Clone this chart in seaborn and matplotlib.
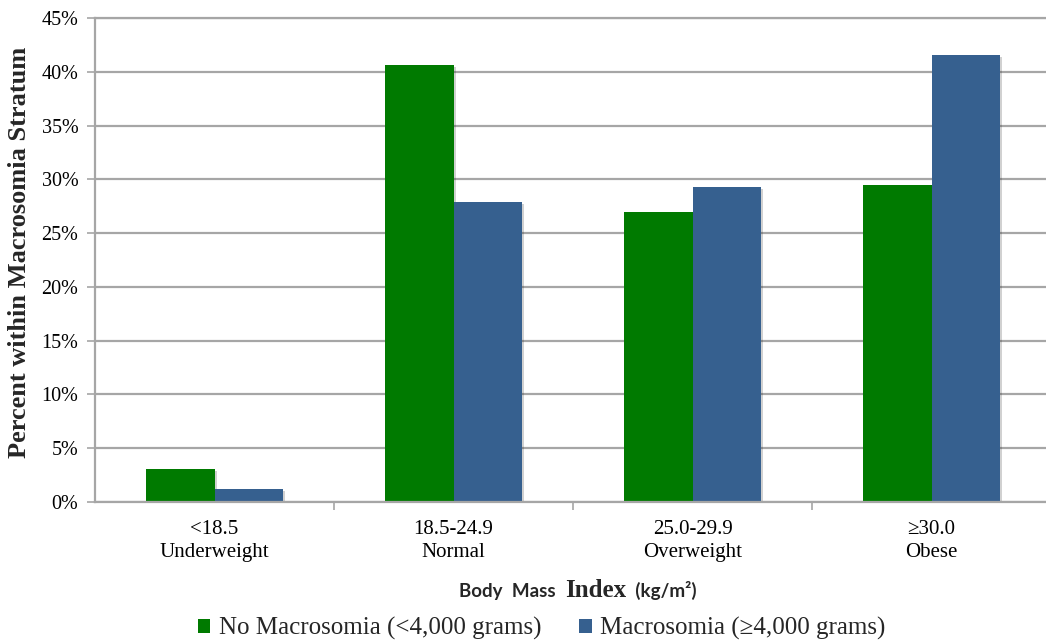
import matplotlib
matplotlib.use("Agg")
import matplotlib.pyplot as plt
import seaborn as sns
import pandas as pd
from matplotlib import patheffects as pe
from matplotlib.ticker import PercentFormatter, FixedLocator

# BMI strata and share of births in each macrosomia stratum (%)
categories = ["<18.5\nUnderweight", "18.5-24.9\nNormal", "25.0-29.9\nOverweight", "\u226530.0\nObese"]
no_macrosomia = [3.1, 40.6, 27.0, 29.5]
macrosomia = [1.2, 27.9, 29.3, 41.6]
series_names = ["No Macrosomia (<4,000 grams)", "Macrosomia (\u22654,000 grams)"]
y_ticks = [0, 5, 10, 15, 20, 25, 30, 35, 40, 45]

GREEN = "#007A00"
BLUE = "#36608F"
GRID = "#A6A6A6"

df = pd.DataFrame({
    "bmi": categories * 2,
    "pct": no_macrosomia + macrosomia,
    "group": [series_names[0]] * len(categories) + [series_names[1]] * len(categories),
})

sns.set_theme(style="white")
plt.rcParams["font.family"] = ["Liberation Serif", "DejaVu Serif"]

fig = plt.figure(figsize=(10.46, 6.41), dpi=100)
# plot area runs slightly past the right edge of the canvas
ax = fig.add_axes([95 / 1046, 0.2168, 956 / 1046, 0.7551])

sns.barplot(
    data=df, x="bmi", y="pct", hue="group",
    order=categories, hue_order=series_names,
    palette=[GREEN, BLUE], saturation=1, width=0.57,
    errorbar=None, linewidth=0, ax=ax,
)

# soft drop shadow behind each bar
for p in ax.patches:
    p.set_path_effects([
        pe.SimplePatchShadow(offset=(1.5, -1.5), shadow_rgbFace="k", alpha=0.2),
        pe.Normal(),
    ])

ax.set_ylim(0, 45)
ax.set_xlim(-0.5, len(categories) - 0.5)
ax.yaxis.set_major_locator(FixedLocator(y_ticks))
ax.yaxis.set_major_formatter(PercentFormatter(decimals=0))
ax.grid(axis="y", color=GRID, linewidth=1.6)
ax.set_axisbelow(True)

for side in ["left", "bottom", "top"]:
    ax.spines[side].set_visible(True)
    ax.spines[side].set_color(GRID)
    ax.spines[side].set_linewidth(1.6)
ax.spines["right"].set_visible(False)

ax.tick_params(axis="y", which="major", direction="out", length=6, width=1.2,
               color=GRID, left=True, labelsize=14.5, pad=6, labelcolor="black")
ax.set_xticks(range(len(categories)))
ax.set_xticklabels(categories, fontsize=15, linespacing=1.3)
ax.tick_params(axis="x", which="major", length=0, pad=13, labelcolor="black")
ax.set_xticks([i + 0.5 for i in range(len(categories) - 1)], minor=True)
ax.tick_params(axis="x", which="minor", direction="out", length=6, width=1.2,
               color=GRID, bottom=True)

ax.set_xlabel("")
ax.set_ylabel("")
fig.text(0.019, 0.607, "Percent within Macrosomia Stratum", rotation=90,
         ha="center", va="center", fontsize=19, fontweight="bold")

# axis title mixing a sans-serif and a serif face
pieces = [("Body\u2002Mass\u2002", "Lato", 13.5), ("Index", "Liberation Serif", 18),
          ("\u2002(kg/m\u00b2)", "Lato", 13.5)]
fig.canvas.draw()
renderer = fig.canvas.get_renderer()
texts = []
for s, fam, size in pieces:
    t = fig.text(0, 0, s, family=[fam, "DejaVu Sans"], fontsize=size, fontweight="bold",
                 va="baseline", ha="left")
    texts.append(t)
widths = [t.get_window_extent(renderer).width for t in texts]
W, H = fig.bbox.width, fig.bbox.height
x_px = 578 - sum(widths) / 2
y_base = H - 597
for t, w in zip(texts, widths):
    t.set_position((x_px / W, y_base / H))
    x_px += w

sns.move_legend(
    ax, "center", bbox_to_anchor=(0.518, 0.019), bbox_transform=fig.transFigure,
    ncol=2, title=None, frameon=False, fontsize=18,
    handlelength=0.5, handleheight=0.5, handletextpad=0.35, columnspacing=1.5,
)

fig.savefig("out.png", dpi=100)
